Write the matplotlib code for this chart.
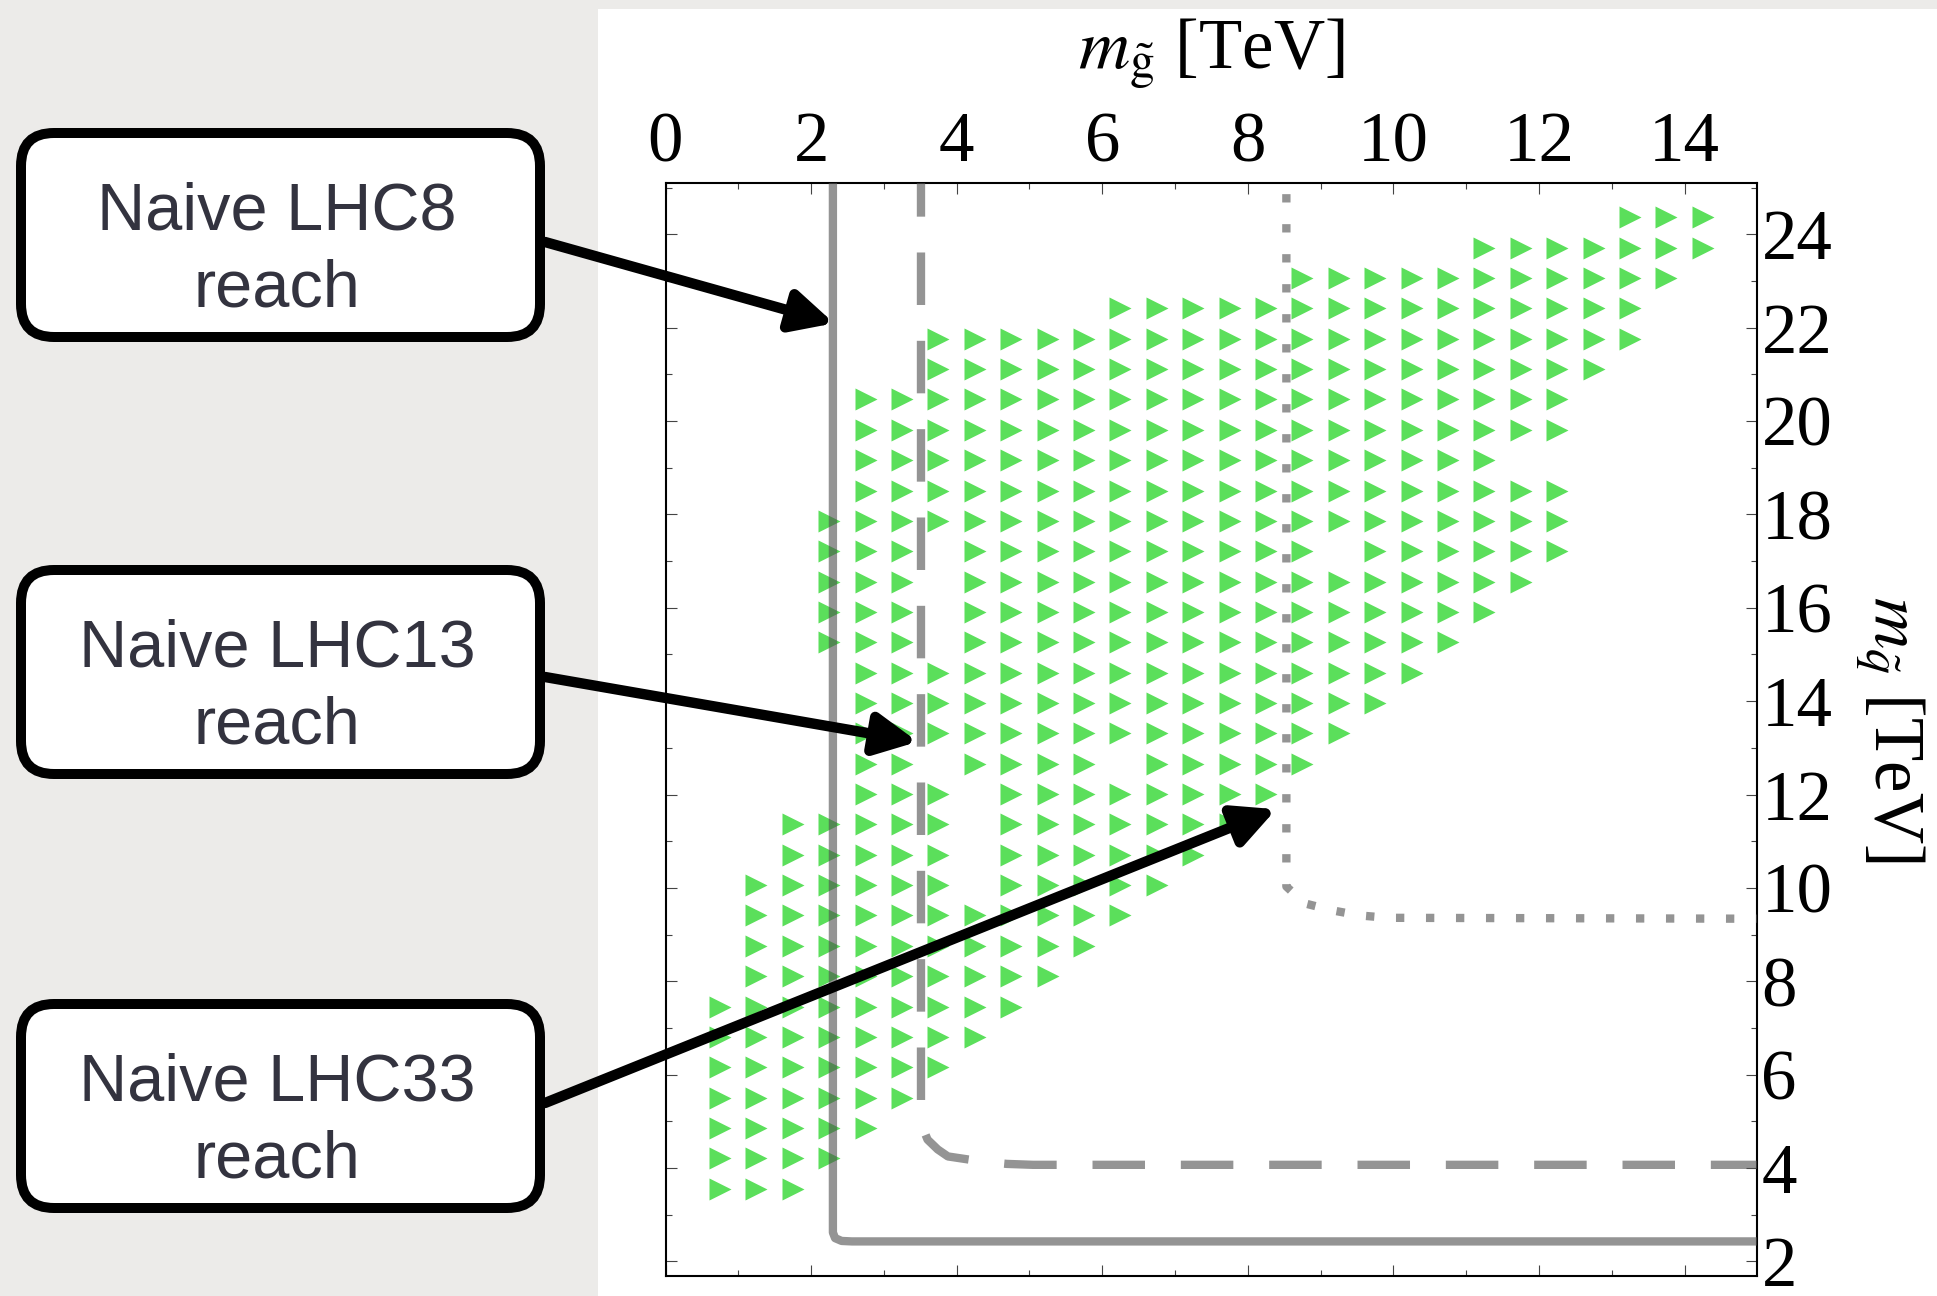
import numpy as np
import matplotlib.pyplot as plt
from matplotlib.patches import FancyBboxPatch, Rectangle

plt.rcParams['font.family'] = ['Liberation Serif', 'DejaVu Serif']
plt.rcParams['mathtext.fontset'] = 'stix'

W, H = 1937, 1296

# scan points: squark-mass rows (TeV), top to bottom
row_msq = [24.36, 23.71, 23.06, 22.41, 21.76, 21.11, 20.46, 19.81, 19.16, 18.51,
           17.86, 17.21, 16.56, 15.91, 15.26, 14.61, 13.96, 13.31, 12.66, 12.01,
           11.36, 10.71, 10.06, 9.41, 8.76, 8.11, 7.46, 6.81, 6.16, 5.51,
           4.86, 4.21, 3.56]
# first / last gluino mass in each row, points every 0.5 TeV
row_mgl_first = [13.25, 11.25, 8.75, 6.25, 3.75, 3.75, 2.75, 2.75, 2.75, 2.75,
                 2.25, 2.25, 2.25, 2.25, 2.25, 2.75, 2.75, 2.75, 2.75, 2.75,
                 1.75, 1.75, 1.25, 1.25, 1.25, 1.25, 0.75, 0.75, 0.75, 0.75,
                 0.75, 0.75, 0.75]
row_mgl_last = [14.25, 14.25, 13.75, 13.25, 13.25, 12.75, 12.25, 12.25, 11.25, 12.25,
                12.25, 12.25, 11.75, 11.25, 10.75, 10.25, 9.75, 9.25, 8.75, 8.25,
                7.75, 7.25, 6.75, 6.25, 5.75, 5.25, 4.75, 4.25, 3.75, 3.25,
                2.75, 2.25, 1.75]
# holes in the scan: (row index, gluino mass)
missing = [(11, 3.75), (11, 9.25), (12, 3.75), (13, 3.75), (14, 3.75),
           (18, 3.75), (18, 6.25), (19, 4.25), (20, 4.25), (21, 4.25), (22, 4.25)]

# naive reach curves (m_gluino, m_squark)
lhc8_mgl = [2.30, 2.30, 2.33, 2.42, 2.56, 15.2]
lhc8_msq = [25.5, 2.62, 2.50, 2.44, 2.43, 2.43]
lhc13_mgl = [3.51, 3.51, 3.60, 3.74, 3.88, 4.35, 4.69, 5.05, 15.2]
lhc13_msq = [25.5, 4.96, 4.61, 4.40, 4.25, 4.14, 4.09, 4.07, 4.07]
lhc33_mgl = [8.53, 8.53, 8.78, 9.16, 9.54, 9.93, 15.2]
lhc33_msq = [25.5, 10.03, 9.67, 9.52, 9.41, 9.36, 9.34]

box_labels = ['Naive LHC8\nreach', 'Naive LHC13\nreach', 'Naive LHC33\nreach']
box_tops = [133, 570, 1004]          # pixels from top
arrow_from = [(545, 242), (545, 677), (545, 1103)]
arrow_to = [(2.39, 22.06), (3.54, 13.11), (8.46, 11.73)]   # data coords

fig = plt.figure(figsize=(W / 100, H / 100), dpi=100)
fig.patch.set_facecolor('#ecebe9')
fig.add_artist(Rectangle((598 / W, 0), 1 - 598 / W, 1 - 9 / H, transform=fig.transFigure,
                         facecolor='white', edgecolor='none', zorder=-5))

ax = fig.add_axes([665.5 / W, 1 - 1275.5 / H, (1757.3 - 665.5) / W, (1275.5 - 183.3) / H])

xs, ys = [], []
for i, (y, a, b) in enumerate(zip(row_msq, row_mgl_first, row_mgl_last)):
    for x in np.arange(a, b + 0.01, 0.5):
        if (i, round(x, 2)) in missing:
            continue
        xs.append(x)
        ys.append(y)
ax.plot(xs, ys, ls='none', marker='>', ms=15.5, mfc='#5bdf5b', mec='none', zorder=2)

line_kw = dict(color='#4d4d4d', alpha=0.6, lw=6.0, zorder=3)
ax.plot(lhc8_mgl, lhc8_msq, solid_joinstyle='round', **line_kw)
ax.plot(lhc13_mgl, lhc13_msq, dashes=(6.3, 4.3), **line_kw)
ax.plot(lhc33_mgl, lhc33_msq, dashes=(1.0, 2.6), **line_kw)

ax.set_xlim(0, 15)
ax.set_ylim(1.7, 25.09)
ax.set_xticks(np.arange(0, 15, 2))
ax.set_xticks(np.arange(1, 15, 2), minor=True)
ax.set_yticks(np.arange(2, 25, 2))
ax.set_yticks(np.arange(3, 26, 2), minor=True)
ax.tick_params(which='both', direction='in', top=True, bottom=True, left=True, right=True,
               labeltop=True, labelbottom=False, labelright=True, labelleft=False,
               color='#444444', width=0.8, labelsize=51)
ax.tick_params(which='major', length=7.7)
ax.tick_params(which='minor', length=4.3)
ax.tick_params(axis='x', pad=5)
ax.tick_params(axis='y', pad=3)
for s in ax.spines.values():
    s.set_linewidth(1.5)

ax.text(0.5, 1.1184, r'$m_{\tilde{\mathrm{g}}}$ [TeV]', transform=ax.transAxes,
        ha='center', va='center', fontsize=51)
ax.text(1.1215, 0.5, r'$m_{\tilde{q}}$ [TeV]', transform=ax.transAxes, rotation=270,
        ha='center', va='center', fontsize=51)

for src, tip in zip(arrow_from, arrow_to):
    ax.annotate('', xy=tip, xycoords='data', xytext=(src[0], H - src[1]),
                textcoords='figure pixels', annotation_clip=False, zorder=10,
                arrowprops=dict(arrowstyle='-|>', mutation_scale=62, lw=7.5,
                                color='black', shrinkA=0, shrinkB=4))

# callout boxes drawn in a pixel-space overlay
deco = fig.add_axes([0, 0, 1, 1], zorder=5)
deco.set_xlim(0, W)
deco.set_ylim(H, 0)
deco.axis('off')
deco.patch.set_alpha(0)
for lab, top in zip(box_labels, box_tops):
    deco.add_patch(FancyBboxPatch((21, top), 519, 204, boxstyle='round,pad=0,rounding_size=33',
                                  facecolor='white', edgecolor='black', lw=7.2))
    deco.text(277, top + 118, lab, ha='center', va='center', fontsize=48, color='#33333f',
              family=['Liberation Sans', 'DejaVu Sans'], linespacing=1.3)

fig.savefig('out.png', dpi=100)
